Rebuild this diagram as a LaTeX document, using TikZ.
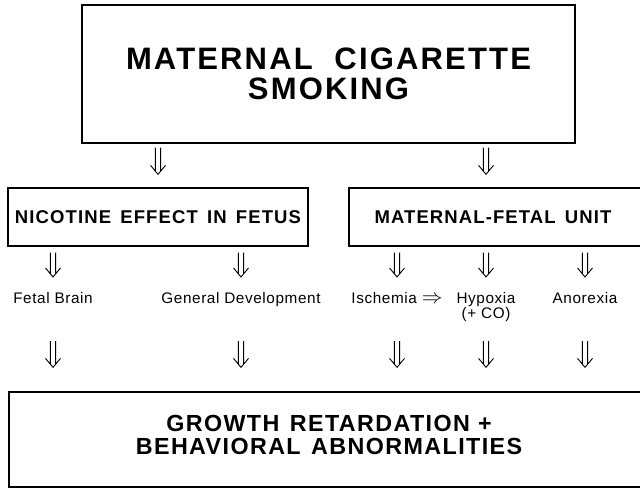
\documentclass[tikz,border=0pt]{standalone}
\usepackage{fontspec}
\setmainfont{Liberation Sans}
\newfontfamily\lsbig[LetterSpace=7]{Liberation Sans}
\newfontfamily\lsmid[LetterSpace=6]{Liberation Sans}
\newfontfamily\lssmall[LetterSpace=4]{Liberation Sans}
\usetikzlibrary{calc}
\newcommand\darr[2]{\draw[arr] let \p1=#1, \p2=#2 in
  (\x1-2.6pt,\y1) -- (\x1-2.6pt,\y2+3.2pt)
  (\x1+2.6pt,\y1) -- (\x1+2.6pt,\y2+3.2pt)
  (\x1-7.5pt,\y2+9pt) -- (\x1,\y2) -- (\x1+7.5pt,\y2+9pt);}
\begin{document}
\begin{tikzpicture}[x=1pt,y=-1pt,
  box/.style={draw, line width=1.3pt, inner sep=0pt, align=center},
  lab/.style={font=\lssmall\fontsize{15.3}{14}\selectfont, inner sep=0pt, anchor=base, align=center},
  arr/.style={line width=0.9pt, line join=miter}]
\useasboundingbox (0,0) rectangle (640,489);
% boxes
\node[box, minimum width=493pt, minimum height=138pt,
      font=\lsbig\bfseries\fontsize{31}{30}\selectfont] (smk) at (328.5,74)
      {MATERNAL\hspace{0.7em}CIGARETTE\\SMOKING};
\node[box, minimum width=300pt, minimum height=58pt,
      font=\lsmid\bfseries\fontsize{18.5}{18}\selectfont] (nic) at (158,217)
      {NICOTINE\hspace{0.5em}EFFECT\hspace{0.5em}IN\hspace{0.5em}FETUS};
\node[box, minimum width=300pt, minimum height=58pt,
      font=\lsmid\bfseries\fontsize{18.5}{18}\selectfont] (mfu) at (499,217)
      {MATERNAL-FETAL\hspace{0.5em}UNIT\hspace*{12pt}};
\node[box, minimum width=640pt, minimum height=95pt,
      font=\lsmid\bfseries\fontsize{23.3}{23}\selectfont] (gr) at (329,439.5)
      {GROWTH\hspace{0.45em}RETARDATION\hspace{0.35em}+\\BEHAVIORAL\hspace{0.45em}ABNORMALITIES\\[-13pt]\mbox{}};
% labels
\node[lab] (fb)  at (53,303)  {Fetal Brain};
\node[lab] (gd)  at (241,303) {General Development};
\node[lab] (isc) at (397,303) {Ischemia {\fontsize{20}{14}\selectfont$\Rightarrow$}};
\node[lab, anchor=north] (hyp) at (486,292) {Hypoxia\\(+ CO)};
\node[lab] (ano) at (585,303) {Anorexia};
% arrows from top box
\darr{($(smk.south -| nic)+(0,4)$)}{($(nic.north)+(0,-13)$)}
\darr{($(smk.south -| hyp)+(0,4)$)}{($(mfu.north -| hyp)+(0,-13)$)}
% arrows from middle boxes
\foreach \nm/\bx in {fb/nic, gd/nic, isc/mfu, hyp/mfu, ano/mfu}
  {\darr{($(\bx.south -| \nm.base)+(0,6)$)}{(\nm.base |- 0,277)}}
% arrows to bottom box
\foreach \nm in {fb, gd, isc, hyp, ano}
  {\darr{(\nm.base |- 0,341)}{($(gr.north -| \nm.base)+(0,-24)$)}}
\end{tikzpicture}
\end{document}
